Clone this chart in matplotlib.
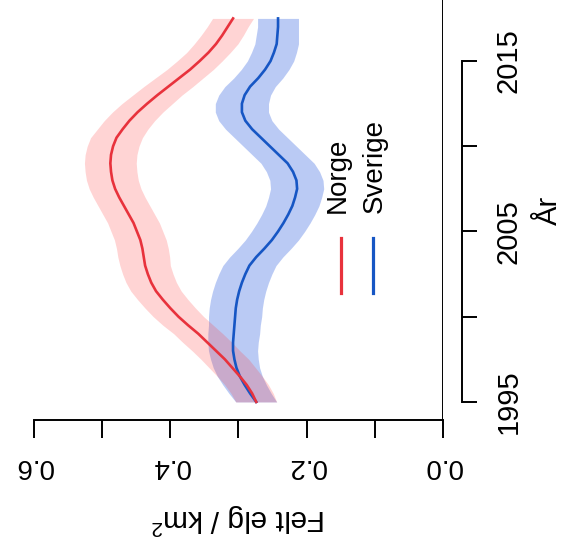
import numpy as np
import matplotlib.pyplot as plt

plt.rcParams['font.family'] = ['Liberation Sans', 'DejaVu Sans']
plt.rcParams['mathtext.fontset'] = 'custom'
plt.rcParams['mathtext.rm'] = 'Liberation Sans'

years = np.arange(1995, 2017.6, 0.5)
norge = [0.274, 0.280, 0.288, 0.298, 0.309, 0.320, 0.333, 0.346, 0.359, 0.374,
         0.388, 0.400, 0.411, 0.421, 0.428, 0.433, 0.437, 0.439, 0.441, 0.444,
         0.449, 0.454, 0.461, 0.468, 0.475, 0.481, 0.485, 0.487, 0.488, 0.487,
         0.484, 0.479, 0.470, 0.460, 0.448, 0.434, 0.419, 0.403, 0.387, 0.371,
         0.357, 0.344, 0.333, 0.324, 0.316, 0.308]
sverige = [0.274, 0.283, 0.291, 0.298, 0.303, 0.306, 0.308, 0.308, 0.307, 0.306,
           0.305, 0.304, 0.302, 0.299, 0.295, 0.290, 0.284, 0.274, 0.262, 0.251,
           0.242, 0.234, 0.227, 0.221, 0.217, 0.214, 0.215, 0.220, 0.228, 0.241,
           0.254, 0.267, 0.280, 0.290, 0.295, 0.295, 0.291, 0.283, 0.271, 0.261,
           0.253, 0.248, 0.244, 0.243, 0.242, 0.242]
# half width of the shaded bands
norge_ci = [0.030, 0.031, 0.032, 0.033, 0.034, 0.035, 0.035, 0.036, 0.036, 0.037,
            0.037, 0.037, 0.037, 0.037, 0.037, 0.037, 0.037, 0.038, 0.038, 0.038,
            0.038, 0.038, 0.038, 0.038, 0.038, 0.038, 0.038, 0.038, 0.038, 0.038,
            0.038, 0.038, 0.037, 0.037, 0.037, 0.037, 0.036, 0.036, 0.035, 0.034,
            0.033, 0.032, 0.032, 0.031, 0.030, 0.030]
sverige_ci = [0.030, 0.031, 0.032, 0.033, 0.034, 0.035, 0.036, 0.037, 0.038, 0.038,
              0.039, 0.039, 0.039, 0.039, 0.039, 0.039, 0.039, 0.039, 0.039, 0.039,
              0.039, 0.039, 0.039, 0.039, 0.039, 0.039, 0.039, 0.039, 0.039, 0.039,
              0.039, 0.039, 0.039, 0.039, 0.039, 0.039, 0.038, 0.037, 0.036, 0.035,
              0.034, 0.033, 0.032, 0.031, 0.030, 0.030]

val_ticks = [0.0, 0.1, 0.2, 0.3, 0.4, 0.5, 0.6]
val_labels = ['0.0', '', '0.2', '', '0.4', '', '0.6']
year_ticks = [1995, 2000, 2005, 2010, 2015]
year_labels = ['1995', '', '2005', '', '2015']

RED = '#e8323c'
BLUE = '#1656c4'
PX = 72 / 100  # points per pixel

no = np.array(norge)
sv = np.array(sverige)
no_ci = np.array(norge_ci)
sv_ci = np.array(sverige_ci)

fig = plt.figure(figsize=(5.68, 5.54), dpi=100)
ax = fig.add_axes([34 / 568, 134 / 554, 409 / 568, 420 / 554])

# whole figure is turned 90 degrees: value along x (reversed), year along y
ax.fill_betweenx(years, sv - sv_ci, sv + sv_ci, color='#3060e0', alpha=0.33, lw=0)
ax.fill_betweenx(years, no - no_ci, no + no_ci, color='#ff3c3c', alpha=0.22, lw=0)
ax.plot(sv, years, color=BLUE, lw=1.9)
ax.plot(no, years, color=RED, lw=1.9)

ax.set_xlim(0.6, 0.0)
ax.set_ylim(1993.94, 2018.58)

ax.spines['top'].set_visible(False)
ax.spines['left'].set_visible(False)
ax.spines['bottom'].set_bounds(0.0, 0.6)
ax.spines['bottom'].set_linewidth(1.4)
ax.spines['right'].set_position(('outward', 19 * PX))
ax.spines['right'].set_bounds(1995, 2015)
ax.spines['right'].set_linewidth(1.4)
ax.axvline(0.0, color='black', lw=1.4)

ax.set_xticks(val_ticks)
ax.set_xticklabels(val_labels, rotation=180, fontsize=20)
ax.tick_params(axis='x', direction='out', length=18 * PX, width=1.4, pad=15 * PX)

ax.yaxis.tick_right()
ax.set_yticks(year_ticks)
ax.set_yticklabels(year_labels, rotation=90, va='center', fontsize=21)
ax.tick_params(axis='y', direction='out', length=15 * PX, width=1.4, pad=18 * PX)

ax.set_xlabel('Felt elg / km$^2$', rotation=180, fontsize=21.5, labelpad=22 * PX)
ax.yaxis.set_label_position('right')
ax.set_ylabel('År', rotation=90, fontsize=21, labelpad=12 * PX)

# legend, turned like the rest
ax.plot([0.751, 0.751], [0.302, 0.433], transform=ax.transAxes, color=RED, lw=2.3)
ax.plot([0.829, 0.829], [0.302, 0.433], transform=ax.transAxes, color=BLUE, lw=2.3)
ax.text(0.743, 0.493, 'Norge', transform=ax.transAxes, rotation=90,
        ha='center', va='bottom', fontsize=20)
ax.text(0.834, 0.493, 'Sverige', transform=ax.transAxes, rotation=90,
        ha='center', va='bottom', fontsize=20)

fig.savefig('out.png', dpi=100)
